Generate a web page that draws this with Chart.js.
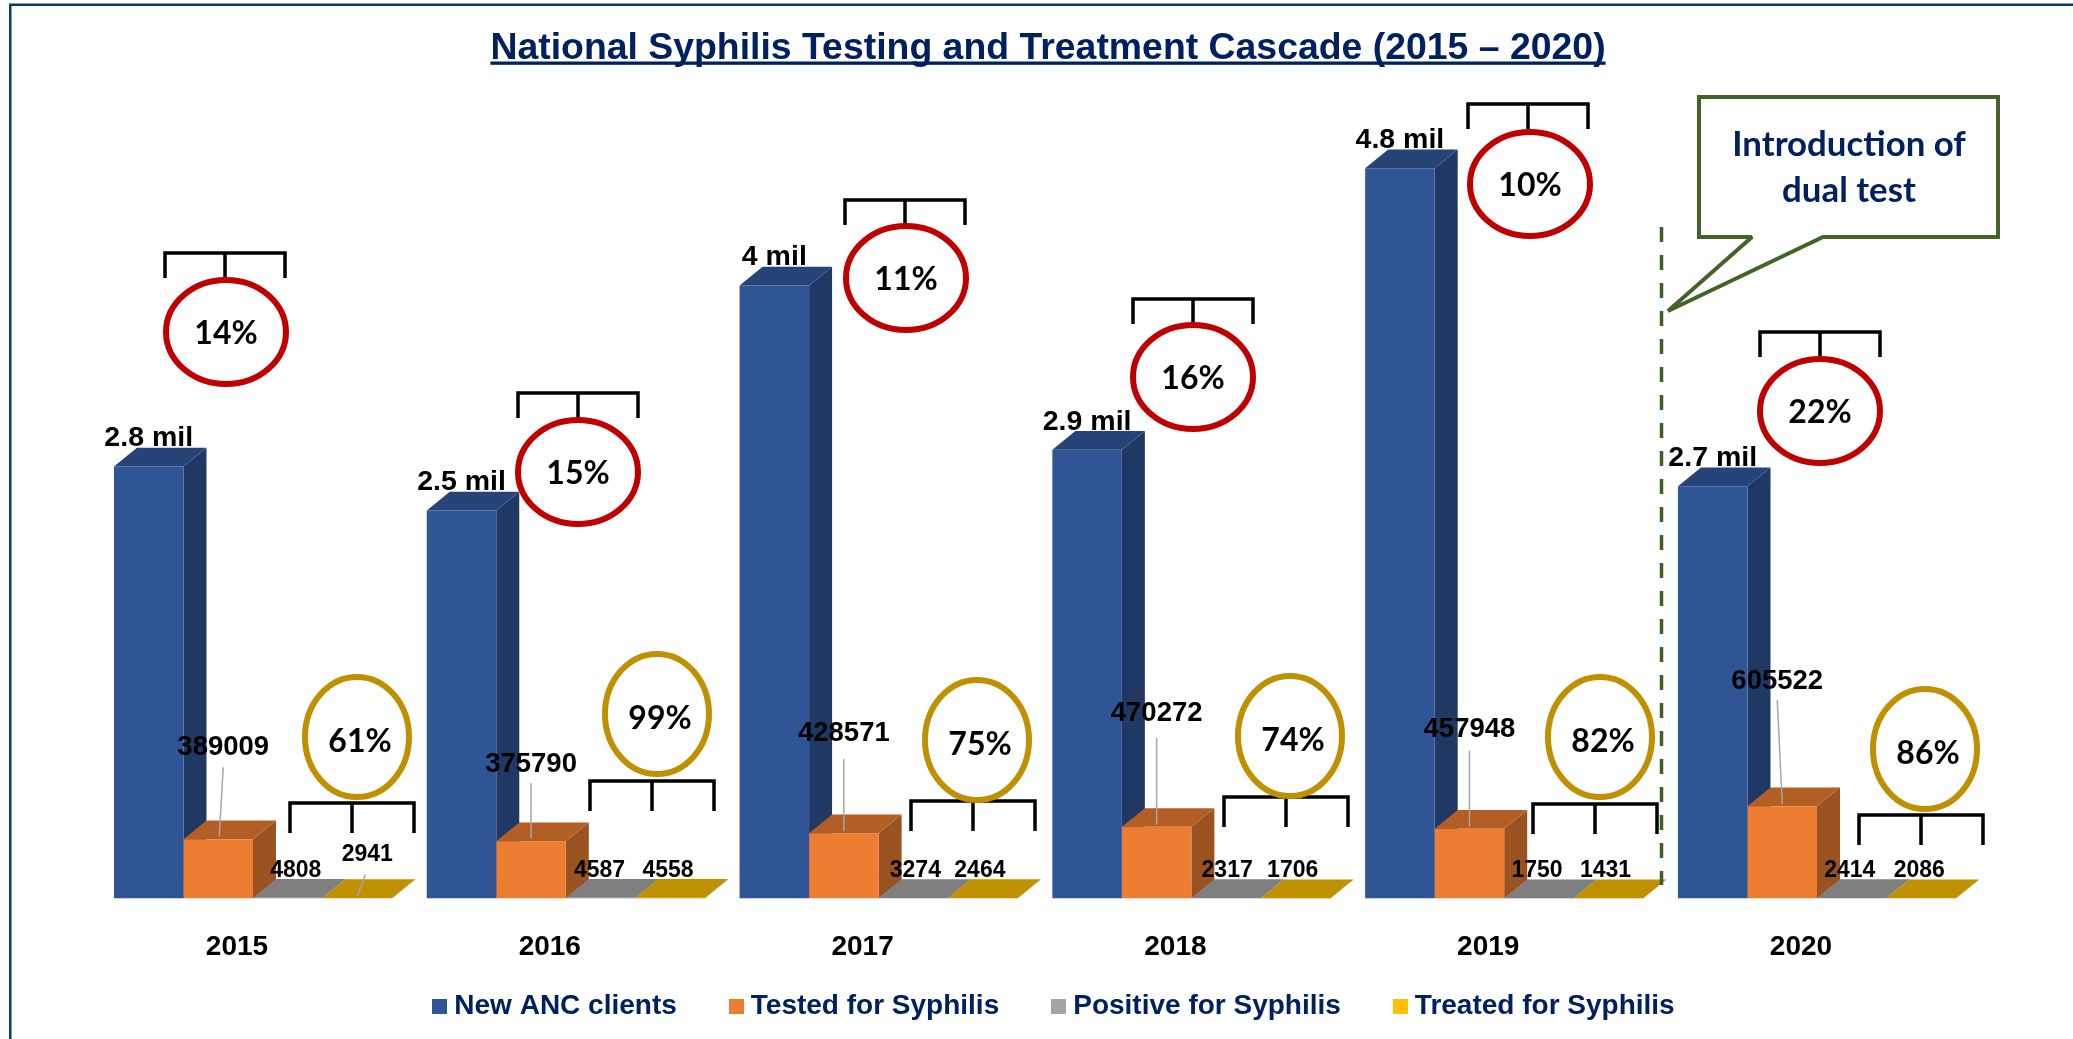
<!DOCTYPE html>
<html>
<head>
<meta charset="utf-8">
<title>National Syphilis Testing and Treatment Cascade</title>
<script src="https://cdn.jsdelivr.net/npm/chart.js@4"></script>
<style>
  html, body { margin: 0; padding: 0; background: #fff; }
  #wrap { width: 2073px; height: 1039px; position: relative; }
</style>
</head>
<body>
<div id="wrap"><canvas id="cascade-chart"></canvas></div>
<script>
const years = ['2015', '2016', '2017', '2018', '2019', '2020'];
const seriesNames = ['New ANC clients', 'Tested for Syphilis', 'Positive for Syphilis', 'Treated for Syphilis'];

// bar heights, printed labels kept separately
const newClients = [2840000, 2550000, 4030000, 2950000, 4800000, 2710000];
const newClientLabels = ['2.8 mil', '2.5 mil', '4 mil', '2.9 mil', '4.8 mil', '2.7 mil'];
const tested = [389009, 375790, 428571, 470272, 457948, 605522];
const positive = [4808, 4587, 3274, 2317, 1750, 2414];
const treated = [2941, 4558, 2464, 1706, 1431, 2086];
const testedPct = ['14%', '15%', '11%', '16%', '10%', '22%'];
const treatedPct = ['61%', '99%', '75%', '74%', '82%', '86%'];

const NAVY = '#002060';
const FONT = '"Liberation Sans", Arial, sans-serif';
const TITLE_SIZE = 37.4;
const depthX = 23;
const depthY = 18.7;

const faces = [
  { front: '#2f5597', side: '#203864', top: '#264478' },
  { front: '#ed7d31', side: '#9a5320', top: '#b25e24' },
  { front: '#7f7f7f', side: '#7f7f7f', top: '#7f7f7f' },
  { front: '#bf9000', side: '#bf9000', top: '#bf9000' }
];
const legendColors = ['#2f5597', '#ed7d31', '#a5a5a5', '#ffc000'];

// hand placed callouts, pixel offsets from each group's bars
const testedLabelLift = [92, 77, 100, 113, 99, 125];
const testedLabelShift = [5, 0, 0, 0, 0, -5];
const leader = [[5, 72, 1, 3], [0, 58, 0, 3], [0, 74, 0, 2], [0, 89, 0, 2], [0, 78, 0, 2], [-5, 106, 0, 2]];
const positiveShift = [8, -1, 2, 1, -2, -2];
const treatedShift = [10, -2, -3, -3, -3, -2];
const redCircles = [[226, 332], [578, 472], [906, 278], [1193, 377], [1530, 184], [1820, 411]];
const redBrackets = [[225, 253], [578, 393], [905, 200], [1193, 299], [1528, 104], [1820, 332]];
const goldCircles = [[357, 737], [657, 714], [977, 740], [1290, 736], [1600, 737], [1925, 749]];
const goldBrackets = [[352, 803], [652, 781], [973, 801], [1286, 797], [1595, 804], [1921, 815]];

function drawFaces(chart) {
  const ctx = chart.ctx;
  chart.data.datasets.forEach((ds, i) => {
    chart.getDatasetMeta(i).data.forEach(bar => {
      const x0 = bar.x - bar.width / 2;
      const x1 = bar.x + bar.width / 2;
      ctx.fillStyle = faces[i].side;
      ctx.beginPath();
      ctx.moveTo(x1, bar.y);
      ctx.lineTo(x1 + depthX, bar.y - depthY);
      ctx.lineTo(x1 + depthX, bar.base - depthY);
      ctx.lineTo(x1, bar.base);
      ctx.closePath();
      ctx.fill();
      ctx.fillStyle = faces[i].top;
      ctx.beginPath();
      ctx.moveTo(x0, bar.y);
      ctx.lineTo(x1, bar.y);
      ctx.lineTo(x1 + depthX, bar.y - depthY);
      ctx.lineTo(x0 + depthX, bar.y - depthY);
      ctx.closePath();
      ctx.fill();
    });
  });
}

function text(ctx, str, x, y, size, font, color) {
  ctx.font = 'bold ' + size + 'px ' + (font || FONT);
  ctx.fillStyle = color || '#000';
  ctx.textAlign = 'center';
  ctx.textBaseline = 'middle';
  ctx.fillText(str, x, y);
}

function bracket(ctx, cx, top, halfWidth, leg) {
  ctx.strokeStyle = '#000';
  ctx.lineWidth = 3.5;
  ctx.beginPath();
  ctx.moveTo(cx - halfWidth, top + leg);
  ctx.lineTo(cx - halfWidth, top);
  ctx.lineTo(cx + halfWidth, top);
  ctx.lineTo(cx + halfWidth, top + leg);
  ctx.moveTo(cx, top);
  ctx.lineTo(cx, top + leg);
  ctx.stroke();
}

function ellipse(ctx, cx, cy, rx, ry, color) {
  ctx.strokeStyle = color;
  ctx.fillStyle = '#fff';
  ctx.lineWidth = 6;
  ctx.beginPath();
  ctx.ellipse(cx, cy, rx, ry, 0, 0, Math.PI * 2);
  ctx.fill();
  ctx.stroke();
}

function drawCallouts(chart) {
  const ctx = chart.ctx;
  const blue = chart.getDatasetMeta(0).data;
  const orange = chart.getDatasetMeta(1).data;
  const gray = chart.getDatasetMeta(2).data;
  const gold = chart.getDatasetMeta(3).data;
  const PCT = 'Lato, ' + FONT;

  years.forEach((y, i) => {
    bracket(ctx, redBrackets[i][0], redBrackets[i][1], 60, 25);
    bracket(ctx, goldBrackets[i][0], goldBrackets[i][1], 62, 30);
    ellipse(ctx, redCircles[i][0], redCircles[i][1], 60, 52, '#c00000');
    ellipse(ctx, goldCircles[i][0], goldCircles[i][1], 52, 60, '#bf9000');
    text(ctx, testedPct[i], redCircles[i][0], redCircles[i][1] + 2, 32, PCT);
    text(ctx, treatedPct[i], goldCircles[i][0] + 3, goldCircles[i][1] + 5, 32, PCT);

    text(ctx, newClientLabels[i], blue[i].x, blue[i].y - 28, 28.5);

    // leader line from the tested label down to its bar
    const l = leader[i];
    ctx.strokeStyle = '#a6a6a6';
    ctx.lineWidth = 1.5;
    ctx.beginPath();
    ctx.moveTo(orange[i].x + l[0], orange[i].y - l[1]);
    ctx.lineTo(orange[i].x + l[2], orange[i].y - l[3]);
    ctx.stroke();
    text(ctx, tested[i], orange[i].x + testedLabelShift[i], orange[i].y - testedLabelLift[i], 27.5);

    text(ctx, positive[i], gray[i].x + positiveShift[i], gray[i].base - 28, 23);
    text(ctx, treated[i], gold[i].x + treatedShift[i], gold[i].base - (i === 0 ? 44 : 28), 23);
  });

  // 2015 treated label sits higher and has its own leader
  ctx.strokeStyle = '#a6a6a6';
  ctx.lineWidth = 1.5;
  ctx.beginPath();
  ctx.moveTo(gold[0].x + 8, gold[0].base - 24);
  ctx.lineTo(gold[0].x, gold[0].base - 2);
  ctx.stroke();

  // dashed divider before 2020
  ctx.strokeStyle = '#3f5f27';
  ctx.lineWidth = 3.5;
  ctx.setLineDash([15, 13]);
  ctx.beginPath();
  ctx.moveTo(1661.5, 227);
  ctx.lineTo(1661.5, 885);
  ctx.stroke();
  ctx.setLineDash([]);

  // speech box
  ctx.strokeStyle = '#426428';
  ctx.fillStyle = '#fff';
  ctx.lineWidth = 4;
  ctx.miterLimit = 2;
  ctx.beginPath();
  ctx.moveTo(1699, 97);
  ctx.lineTo(1998, 97);
  ctx.lineTo(1998, 237);
  ctx.lineTo(1823, 237);
  ctx.lineTo(1668, 311);
  ctx.lineTo(1752, 237);
  ctx.lineTo(1699, 237);
  ctx.closePath();
  ctx.fill();
  ctx.stroke();
  ctx.miterLimit = 10;
  text(ctx, 'Introduction of', 1849, 145, 34.8, PCT, NAVY);
  text(ctx, 'dual test', 1849, 191, 34.8, PCT, NAVY);

  // title underline
  const t = chart.titleBlock;
  ctx.font = 'bold ' + TITLE_SIZE + 'px ' + FONT;
  const w = ctx.measureText(chart.options.plugins.title.text).width;
  const cx = (t.left + t.right) / 2;
  ctx.fillStyle = NAVY;
  ctx.fillRect(cx - w / 2, 61.5, w, 3.3);

  // page frame, left and top only
  ctx.fillStyle = '#0f3d5c';
  ctx.fillRect(9, 4, 2.5, 1035);
  ctx.fillRect(9, 3.5, 2064, 2.5);
}

const cascadeExtras = {
  id: 'cascadeExtras',
  afterLayout(chart) {
    chart.titleBlock.left += 13;
    chart.titleBlock.right += 13;
    chart.legend.left += 22;
    chart.legend.right += 22;
    chart.legend.top -= 64;
  },
  beforeDatasetsDraw: drawFaces,
  afterDraw: drawCallouts
};

function legendSwatch(color) {
  const c = document.createElement('canvas');
  c.width = 15;
  c.height = 15;
  const g = c.getContext('2d');
  g.fillStyle = color;
  g.fillRect(0, 0, 15, 15);
  return c;
}

new Chart(document.getElementById('cascade-chart'), {
  type: 'bar',
  plugins: [cascadeExtras],
  data: {
    labels: years,
    datasets: [newClients, tested, positive, treated].map((values, i) => ({
      label: seriesNames[i],
      data: values,
      backgroundColor: faces[i].front,
      borderWidth: 0
    }))
  },
  options: {
    responsive: true,
    maintainAspectRatio: false,
    animation: false,
    categoryPercentage: 0.889,
    barPercentage: 1,
    layout: { padding: { left: 96.6, right: 99.6 } },
    scales: {
      y: { display: false, min: 0, max: 5250000 },
      x: {
        grid: { display: false, drawTicks: false },
        border: { display: false },
        ticks: {
          color: '#000',
          padding: 32.5,
          labelOffset: -16,
          maxRotation: 0,
          font: { family: FONT, size: 28, weight: 'bold' }
        }
      }
    },
    plugins: {
      tooltip: { enabled: false },
      title: {
        display: true,
        text: 'National Syphilis Testing and Treatment Cascade (2015 – 2020)',
        color: NAVY,
        padding: { top: 26, bottom: 29 },
        font: { family: FONT, size: TITLE_SIZE, weight: 'bold', lineHeight: 1.2 }
      },
      legend: {
        position: 'bottom',
        maxHeight: 42,
        labels: {
          usePointStyle: true,
          pointStyleWidth: 1,
          padding: 59,
          color: NAVY,
          font: { family: FONT, size: 28, weight: 'bold' },
          generateLabels(chart) {
            return Chart.defaults.plugins.legend.labels.generateLabels(chart).map((item, i) => {
              item.pointStyle = legendSwatch(legendColors[i]);
              return item;
            });
          }
        }
      }
    }
  }
});
</script>
</body>
</html>
